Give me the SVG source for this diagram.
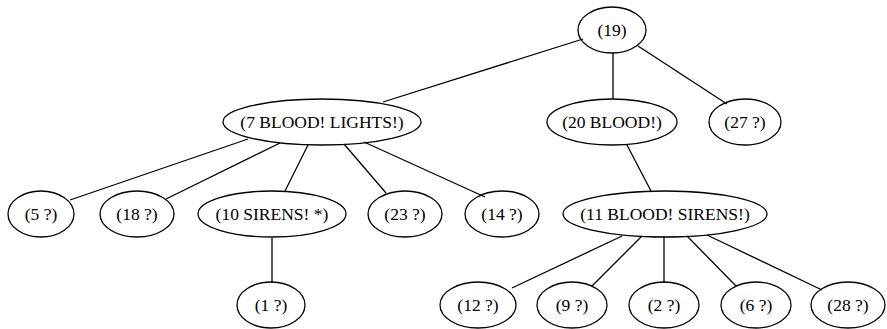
<svg xmlns="http://www.w3.org/2000/svg" width="887" height="329" viewBox="0 0 887 329" font-family="Liberation Serif, Times New Roman, serif">
<style>
.n ellipse{fill:none;stroke:#000;stroke-width:1.3}
.n text{font-size:17.5px;text-anchor:middle;fill:#000}
#edges line{stroke:#000;stroke-width:1.3}
</style>
<rect width="887" height="329" fill="#fff"/>
<g id="edges">
<line x1="583" y1="39" x2="383" y2="102"/>
<line x1="613" y1="53" x2="613" y2="99"/>
<line x1="638" y1="46" x2="727" y2="104"/>
<line x1="248" y1="139" x2="70" y2="200"/>
<line x1="280" y1="143" x2="166" y2="199"/>
<line x1="308" y1="145" x2="285" y2="191"/>
<line x1="344" y1="144" x2="386" y2="193"/>
<line x1="364" y1="142" x2="485" y2="197"/>
<line x1="272" y1="238" x2="272" y2="283"/>
<line x1="627" y1="145" x2="651" y2="191"/>
<line x1="622" y1="236" x2="512" y2="288"/>
<line x1="642" y1="236" x2="592" y2="286"/>
<line x1="664" y1="236" x2="664" y2="283"/>
<line x1="687" y1="236" x2="736" y2="286"/>
<line x1="707" y1="235" x2="822" y2="290"/>
</g>
<g id="n19" class="n"><ellipse cx="612" cy="30" rx="34" ry="23"/><text x="612" y="36" font-family="Liberation Serif">(19)</text></g>
<g id="n7" class="n"><ellipse cx="322" cy="122" rx="99" ry="23"/><text x="322" y="128" font-family="Liberation Serif">(7 BLOOD! LIGHTS!)</text></g>
<g id="n20" class="n"><ellipse cx="612" cy="122" rx="65" ry="23"/><text x="612" y="128" font-family="Liberation Serif">(20 BLOOD!)</text></g>
<g id="n27" class="n"><ellipse cx="745" cy="122" rx="36" ry="23"/><text x="745" y="128" font-family="Liberation Serif">(27 ?)</text></g>
<g id="n5" class="n"><ellipse cx="41" cy="214" rx="33" ry="23"/><text x="41" y="220" font-family="Liberation Serif">(5 ?)</text></g>
<g id="n18" class="n"><ellipse cx="137" cy="214" rx="37" ry="23"/><text x="137" y="220" font-family="Liberation Serif">(18 ?)</text></g>
<g id="n10" class="n"><ellipse cx="272" cy="214" rx="74" ry="23"/><text x="272" y="220" font-family="Liberation Serif">(10 SIRENS! *)</text></g>
<g id="n23" class="n"><ellipse cx="405" cy="214" rx="37" ry="23"/><text x="405" y="220" font-family="Liberation Serif">(23 ?)</text></g>
<g id="n14" class="n"><ellipse cx="502" cy="214" rx="37" ry="23"/><text x="502" y="220" font-family="Liberation Serif">(14 ?)</text></g>
<g id="n11" class="n"><ellipse cx="665" cy="214" rx="102" ry="23"/><text x="665" y="220" font-family="Liberation Serif">(11 BLOOD! SIRENS!)</text></g>
<g id="n1" class="n"><ellipse cx="271" cy="305" rx="34" ry="23"/><text x="271" y="311" font-family="Liberation Serif">(1 ?)</text></g>
<g id="n12" class="n"><ellipse cx="478" cy="305" rx="38" ry="23"/><text x="478" y="311" font-family="Liberation Serif">(12 ?)</text></g>
<g id="n9" class="n"><ellipse cx="572" cy="305" rx="35" ry="23"/><text x="572" y="311" font-family="Liberation Serif">(9 ?)</text></g>
<g id="n2" class="n"><ellipse cx="664" cy="305" rx="35" ry="23"/><text x="664" y="311" font-family="Liberation Serif">(2 ?)</text></g>
<g id="n6" class="n"><ellipse cx="756" cy="305" rx="35" ry="23"/><text x="756" y="311" font-family="Liberation Serif">(6 ?)</text></g>
<g id="n28" class="n"><ellipse cx="848" cy="305" rx="37" ry="23"/><text x="848" y="311" font-family="Liberation Serif">(28 ?)</text></g>
</svg>
